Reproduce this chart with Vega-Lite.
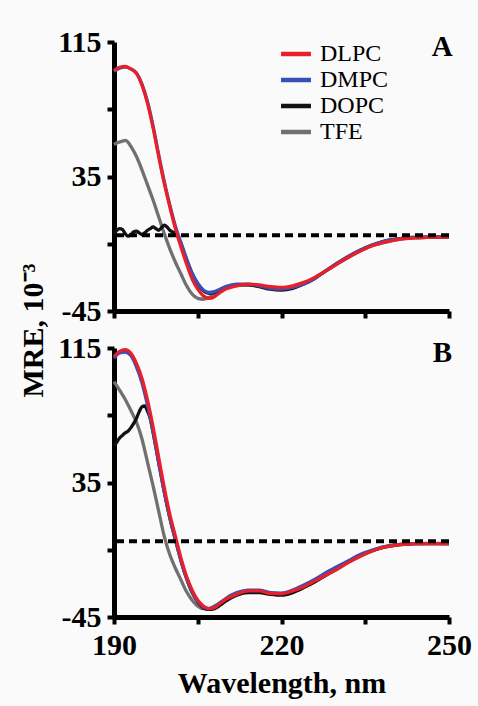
{
"$schema": "https://vega.github.io/schema/vega-lite/v6.json",
"background": "#fafafa",
"padding": {"left": 18, "top": 27, "right": 8, "bottom": 10},
"spacing": 37,
"bounds": "flush",
"config": {
  "view": {"stroke": null},
  "font": "Liberation Serif",
  "axis": {"domainColor": "#000", "domainWidth": 5, "tickColor": "#000", "tickWidth": 4, "tickSize": 7, "labelFont": "Liberation Serif", "labelFontWeight": "bold", "labelFontSize": 30, "labelColor": "#000", "titleFont": "Liberation Serif", "titleFontWeight": "bold", "titleFontSize": 30, "titleColor": "#000", "grid": false, "labelPadding": 6},
  "legend": {"orient": "none", "legendX": 168, "legendY": -2, "title": null, "symbolType": "M-1.3,0L1.3,0", "symbolSize": 529, "symbolStrokeWidth": 4.5, "labelFont": "Liberation Serif", "labelFontSize": 24, "labelFontWeight": "normal", "labelColor": "#000", "labelOffset": 10, "rowPadding": 0, "padding": 0}
},
"datasets": {"cd": [
{"p":"A","s":"TFE","w":190,"v":54},{"p":"A","s":"TFE","w":190.5,"v":55},{"p":"A","s":"TFE","w":191,"v":55.5},{"p":"A","s":"TFE","w":191.5,"v":56},{"p":"A","s":"TFE","w":192,"v":56.5},{"p":"A","s":"TFE","w":192.5,"v":55.5},{"p":"A","s":"TFE","w":193,"v":53},{"p":"A","s":"TFE","w":194,"v":47},{"p":"A","s":"TFE","w":195,"v":39},{"p":"A","s":"TFE","w":196,"v":30},{"p":"A","s":"TFE","w":197,"v":21},{"p":"A","s":"TFE","w":198,"v":11},{"p":"A","s":"TFE","w":199,"v":1},{"p":"A","s":"TFE","w":200,"v":-8},{"p":"A","s":"TFE","w":201,"v":-16},{"p":"A","s":"TFE","w":202,"v":-23},{"p":"A","s":"TFE","w":203,"v":-30},{"p":"A","s":"TFE","w":204,"v":-35},{"p":"A","s":"TFE","w":205,"v":-37.5},{"p":"A","s":"TFE","w":206,"v":-38},{"p":"A","s":"TFE","w":207,"v":-37},{"p":"A","s":"TFE","w":208,"v":-35},{"p":"A","s":"TFE","w":209,"v":-32.5},{"p":"A","s":"TFE","w":210,"v":-31},{"p":"A","s":"TFE","w":212,"v":-29.5},{"p":"A","s":"TFE","w":214,"v":-29.5},{"p":"A","s":"TFE","w":216,"v":-30},{"p":"A","s":"TFE","w":218,"v":-31},{"p":"A","s":"TFE","w":220,"v":-31.5},{"p":"A","s":"TFE","w":222,"v":-30.5},{"p":"A","s":"TFE","w":224,"v":-28.5},{"p":"A","s":"TFE","w":226,"v":-25},{"p":"A","s":"TFE","w":228,"v":-21},{"p":"A","s":"TFE","w":230,"v":-17},{"p":"A","s":"TFE","w":232,"v":-13},{"p":"A","s":"TFE","w":234,"v":-9.5},{"p":"A","s":"TFE","w":236,"v":-6.5},{"p":"A","s":"TFE","w":238,"v":-4.5},{"p":"A","s":"TFE","w":240,"v":-3},{"p":"A","s":"TFE","w":242,"v":-2},{"p":"A","s":"TFE","w":244,"v":-1.5},{"p":"A","s":"TFE","w":246,"v":-1.2},{"p":"A","s":"TFE","w":248,"v":-1},{"p":"A","s":"TFE","w":250,"v":-1},
{"p":"A","s":"DOPC","w":190,"v":1},{"p":"A","s":"DOPC","w":190.5,"v":3},{"p":"A","s":"DOPC","w":191,"v":4},{"p":"A","s":"DOPC","w":191.5,"v":3.5},{"p":"A","s":"DOPC","w":192,"v":1},{"p":"A","s":"DOPC","w":192.5,"v":-0.5},{"p":"A","s":"DOPC","w":193,"v":0.5},{"p":"A","s":"DOPC","w":193.5,"v":2},{"p":"A","s":"DOPC","w":194,"v":2.5},{"p":"A","s":"DOPC","w":194.5,"v":1.5},{"p":"A","s":"DOPC","w":195,"v":0.5},{"p":"A","s":"DOPC","w":195.5,"v":1.5},{"p":"A","s":"DOPC","w":196,"v":3},{"p":"A","s":"DOPC","w":196.5,"v":4},{"p":"A","s":"DOPC","w":197,"v":5},{"p":"A","s":"DOPC","w":197.5,"v":4},{"p":"A","s":"DOPC","w":198,"v":3},{"p":"A","s":"DOPC","w":198.5,"v":4.5},{"p":"A","s":"DOPC","w":199,"v":6},{"p":"A","s":"DOPC","w":199.5,"v":5},{"p":"A","s":"DOPC","w":200,"v":3},{"p":"A","s":"DOPC","w":200.5,"v":2},{"p":"A","s":"DOPC","w":201,"v":1.5},{"p":"A","s":"DOPC","w":202,"v":-5},{"p":"A","s":"DOPC","w":203,"v":-14.5},{"p":"A","s":"DOPC","w":204,"v":-23},{"p":"A","s":"DOPC","w":205,"v":-29},{"p":"A","s":"DOPC","w":206,"v":-33},{"p":"A","s":"DOPC","w":207,"v":-34.5},{"p":"A","s":"DOPC","w":208,"v":-34},{"p":"A","s":"DOPC","w":209,"v":-32.5},{"p":"A","s":"DOPC","w":210,"v":-31},{"p":"A","s":"DOPC","w":212,"v":-29.5},{"p":"A","s":"DOPC","w":214,"v":-29.5},{"p":"A","s":"DOPC","w":216,"v":-30.5},{"p":"A","s":"DOPC","w":218,"v":-32},{"p":"A","s":"DOPC","w":220,"v":-32.5},{"p":"A","s":"DOPC","w":222,"v":-31.5},{"p":"A","s":"DOPC","w":224,"v":-29},{"p":"A","s":"DOPC","w":226,"v":-25.5},{"p":"A","s":"DOPC","w":228,"v":-21},{"p":"A","s":"DOPC","w":230,"v":-16.5},{"p":"A","s":"DOPC","w":232,"v":-12.5},{"p":"A","s":"DOPC","w":234,"v":-9},{"p":"A","s":"DOPC","w":236,"v":-6},{"p":"A","s":"DOPC","w":238,"v":-3.8},{"p":"A","s":"DOPC","w":240,"v":-2.5},{"p":"A","s":"DOPC","w":242,"v":-1.6},{"p":"A","s":"DOPC","w":244,"v":-1.2},{"p":"A","s":"DOPC","w":246,"v":-1},{"p":"A","s":"DOPC","w":248,"v":-0.9},{"p":"A","s":"DOPC","w":250,"v":-0.8},
{"p":"A","s":"DMPC","w":190,"v":97.5},{"p":"A","s":"DMPC","w":191,"v":99.5},{"p":"A","s":"DMPC","w":192,"v":100},{"p":"A","s":"DMPC","w":193,"v":99},{"p":"A","s":"DMPC","w":194,"v":96.5},{"p":"A","s":"DMPC","w":195,"v":90},{"p":"A","s":"DMPC","w":196,"v":79.5},{"p":"A","s":"DMPC","w":197,"v":65},{"p":"A","s":"DMPC","w":198,"v":48},{"p":"A","s":"DMPC","w":199,"v":32},{"p":"A","s":"DMPC","w":200,"v":18},{"p":"A","s":"DMPC","w":201,"v":5.5},{"p":"A","s":"DMPC","w":202,"v":-4.5},{"p":"A","s":"DMPC","w":203,"v":-14},{"p":"A","s":"DMPC","w":204,"v":-22.5},{"p":"A","s":"DMPC","w":205,"v":-28.5},{"p":"A","s":"DMPC","w":206,"v":-32.5},{"p":"A","s":"DMPC","w":207,"v":-34},{"p":"A","s":"DMPC","w":208,"v":-33.5},{"p":"A","s":"DMPC","w":209,"v":-32},{"p":"A","s":"DMPC","w":210,"v":-30.5},{"p":"A","s":"DMPC","w":212,"v":-29},{"p":"A","s":"DMPC","w":214,"v":-29},{"p":"A","s":"DMPC","w":216,"v":-30},{"p":"A","s":"DMPC","w":218,"v":-31.5},{"p":"A","s":"DMPC","w":220,"v":-32},{"p":"A","s":"DMPC","w":222,"v":-31},{"p":"A","s":"DMPC","w":224,"v":-29},{"p":"A","s":"DMPC","w":226,"v":-25.5},{"p":"A","s":"DMPC","w":228,"v":-21},{"p":"A","s":"DMPC","w":230,"v":-16.5},{"p":"A","s":"DMPC","w":232,"v":-12.5},{"p":"A","s":"DMPC","w":234,"v":-9},{"p":"A","s":"DMPC","w":236,"v":-6},{"p":"A","s":"DMPC","w":238,"v":-3.8},{"p":"A","s":"DMPC","w":240,"v":-2.5},{"p":"A","s":"DMPC","w":242,"v":-1.6},{"p":"A","s":"DMPC","w":244,"v":-1.2},{"p":"A","s":"DMPC","w":246,"v":-1},{"p":"A","s":"DMPC","w":248,"v":-0.9},{"p":"A","s":"DMPC","w":250,"v":-0.8},
{"p":"A","s":"DLPC","w":190,"v":98},{"p":"A","s":"DLPC","w":191,"v":100},{"p":"A","s":"DLPC","w":192,"v":100.5},{"p":"A","s":"DLPC","w":193,"v":99},{"p":"A","s":"DLPC","w":194,"v":96.5},{"p":"A","s":"DLPC","w":195,"v":89.5},{"p":"A","s":"DLPC","w":196,"v":78.5},{"p":"A","s":"DLPC","w":197,"v":64},{"p":"A","s":"DLPC","w":198,"v":47},{"p":"A","s":"DLPC","w":199,"v":31},{"p":"A","s":"DLPC","w":200,"v":17},{"p":"A","s":"DLPC","w":201,"v":4},{"p":"A","s":"DLPC","w":202,"v":-7},{"p":"A","s":"DLPC","w":203,"v":-17},{"p":"A","s":"DLPC","w":204,"v":-26},{"p":"A","s":"DLPC","w":205,"v":-32},{"p":"A","s":"DLPC","w":206,"v":-36},{"p":"A","s":"DLPC","w":207,"v":-37.5},{"p":"A","s":"DLPC","w":208,"v":-36.5},{"p":"A","s":"DLPC","w":209,"v":-34},{"p":"A","s":"DLPC","w":210,"v":-32},{"p":"A","s":"DLPC","w":212,"v":-30},{"p":"A","s":"DLPC","w":214,"v":-29},{"p":"A","s":"DLPC","w":216,"v":-29.5},{"p":"A","s":"DLPC","w":218,"v":-30.5},{"p":"A","s":"DLPC","w":220,"v":-31},{"p":"A","s":"DLPC","w":222,"v":-30},{"p":"A","s":"DLPC","w":224,"v":-28},{"p":"A","s":"DLPC","w":226,"v":-25},{"p":"A","s":"DLPC","w":228,"v":-21},{"p":"A","s":"DLPC","w":230,"v":-17},{"p":"A","s":"DLPC","w":232,"v":-13},{"p":"A","s":"DLPC","w":234,"v":-9.5},{"p":"A","s":"DLPC","w":236,"v":-6.5},{"p":"A","s":"DLPC","w":238,"v":-4.5},{"p":"A","s":"DLPC","w":240,"v":-3},{"p":"A","s":"DLPC","w":242,"v":-2},{"p":"A","s":"DLPC","w":244,"v":-1.5},{"p":"A","s":"DLPC","w":246,"v":-1.2},{"p":"A","s":"DLPC","w":248,"v":-1},{"p":"A","s":"DLPC","w":250,"v":-1},
{"p":"B","s":"TFE","w":190,"v":95},{"p":"B","s":"TFE","w":191,"v":90},{"p":"B","s":"TFE","w":192,"v":84.5},{"p":"B","s":"TFE","w":193,"v":78},{"p":"B","s":"TFE","w":194,"v":71},{"p":"B","s":"TFE","w":195,"v":61},{"p":"B","s":"TFE","w":196,"v":47},{"p":"B","s":"TFE","w":197,"v":33},{"p":"B","s":"TFE","w":198,"v":18},{"p":"B","s":"TFE","w":199,"v":3},{"p":"B","s":"TFE","w":200,"v":-8},{"p":"B","s":"TFE","w":201,"v":-16},{"p":"B","s":"TFE","w":202,"v":-23},{"p":"B","s":"TFE","w":203,"v":-30},{"p":"B","s":"TFE","w":204,"v":-35},{"p":"B","s":"TFE","w":205,"v":-38.5},{"p":"B","s":"TFE","w":206,"v":-40},{"p":"B","s":"TFE","w":207,"v":-40},{"p":"B","s":"TFE","w":208,"v":-38.5},{"p":"B","s":"TFE","w":209,"v":-36.5},{"p":"B","s":"TFE","w":210,"v":-34.5},{"p":"B","s":"TFE","w":212,"v":-31.5},{"p":"B","s":"TFE","w":214,"v":-30},{"p":"B","s":"TFE","w":216,"v":-30},{"p":"B","s":"TFE","w":218,"v":-31},{"p":"B","s":"TFE","w":220,"v":-31.5},{"p":"B","s":"TFE","w":222,"v":-30},{"p":"B","s":"TFE","w":224,"v":-27},{"p":"B","s":"TFE","w":226,"v":-23.5},{"p":"B","s":"TFE","w":228,"v":-20},{"p":"B","s":"TFE","w":230,"v":-16.5},{"p":"B","s":"TFE","w":232,"v":-12.5},{"p":"B","s":"TFE","w":234,"v":-9},{"p":"B","s":"TFE","w":236,"v":-6},{"p":"B","s":"TFE","w":238,"v":-3.8},{"p":"B","s":"TFE","w":240,"v":-2.5},{"p":"B","s":"TFE","w":242,"v":-1.8},{"p":"B","s":"TFE","w":244,"v":-1.4},{"p":"B","s":"TFE","w":246,"v":-1.3},{"p":"B","s":"TFE","w":248,"v":-1.3},{"p":"B","s":"TFE","w":250,"v":-1.4},
{"p":"B","s":"DOPC","w":190,"v":57},{"p":"B","s":"DOPC","w":190.5,"v":59},{"p":"B","s":"DOPC","w":191,"v":61.5},{"p":"B","s":"DOPC","w":191.5,"v":63},{"p":"B","s":"DOPC","w":192,"v":64.5},{"p":"B","s":"DOPC","w":192.5,"v":65.5},{"p":"B","s":"DOPC","w":193,"v":67.5},{"p":"B","s":"DOPC","w":193.5,"v":70},{"p":"B","s":"DOPC","w":194,"v":73},{"p":"B","s":"DOPC","w":194.5,"v":77},{"p":"B","s":"DOPC","w":195,"v":80},{"p":"B","s":"DOPC","w":195.5,"v":80.5},{"p":"B","s":"DOPC","w":196,"v":77.5},{"p":"B","s":"DOPC","w":196.5,"v":73},{"p":"B","s":"DOPC","w":197,"v":65},{"p":"B","s":"DOPC","w":198,"v":47},{"p":"B","s":"DOPC","w":199,"v":29.5},{"p":"B","s":"DOPC","w":200,"v":14},{"p":"B","s":"DOPC","w":201,"v":1},{"p":"B","s":"DOPC","w":202,"v":-11.5},{"p":"B","s":"DOPC","w":203,"v":-22},{"p":"B","s":"DOPC","w":204,"v":-30.5},{"p":"B","s":"DOPC","w":205,"v":-36},{"p":"B","s":"DOPC","w":206,"v":-39.5},{"p":"B","s":"DOPC","w":207,"v":-40.5},{"p":"B","s":"DOPC","w":208,"v":-40},{"p":"B","s":"DOPC","w":209,"v":-38},{"p":"B","s":"DOPC","w":210,"v":-35.5},{"p":"B","s":"DOPC","w":212,"v":-32},{"p":"B","s":"DOPC","w":214,"v":-30.5},{"p":"B","s":"DOPC","w":216,"v":-30.5},{"p":"B","s":"DOPC","w":218,"v":-31.5},{"p":"B","s":"DOPC","w":220,"v":-32},{"p":"B","s":"DOPC","w":222,"v":-30.5},{"p":"B","s":"DOPC","w":224,"v":-27.5},{"p":"B","s":"DOPC","w":226,"v":-24},{"p":"B","s":"DOPC","w":228,"v":-20},{"p":"B","s":"DOPC","w":230,"v":-16},{"p":"B","s":"DOPC","w":232,"v":-12},{"p":"B","s":"DOPC","w":234,"v":-8.5},{"p":"B","s":"DOPC","w":236,"v":-5.8},{"p":"B","s":"DOPC","w":238,"v":-3.7},{"p":"B","s":"DOPC","w":240,"v":-2.4},{"p":"B","s":"DOPC","w":242,"v":-1.7},{"p":"B","s":"DOPC","w":244,"v":-1.4},{"p":"B","s":"DOPC","w":246,"v":-1.3},{"p":"B","s":"DOPC","w":248,"v":-1.3},{"p":"B","s":"DOPC","w":250,"v":-1.4},
{"p":"B","s":"DMPC","w":190,"v":109},{"p":"B","s":"DMPC","w":191,"v":112},{"p":"B","s":"DMPC","w":192,"v":112.5},{"p":"B","s":"DMPC","w":193,"v":110.5},{"p":"B","s":"DMPC","w":194,"v":104},{"p":"B","s":"DMPC","w":195,"v":94.5},{"p":"B","s":"DMPC","w":196,"v":81},{"p":"B","s":"DMPC","w":197,"v":65},{"p":"B","s":"DMPC","w":198,"v":47},{"p":"B","s":"DMPC","w":199,"v":29.5},{"p":"B","s":"DMPC","w":200,"v":14},{"p":"B","s":"DMPC","w":201,"v":1},{"p":"B","s":"DMPC","w":202,"v":-11.5},{"p":"B","s":"DMPC","w":203,"v":-22},{"p":"B","s":"DMPC","w":204,"v":-30},{"p":"B","s":"DMPC","w":205,"v":-35.5},{"p":"B","s":"DMPC","w":206,"v":-39},{"p":"B","s":"DMPC","w":207,"v":-40},{"p":"B","s":"DMPC","w":208,"v":-39},{"p":"B","s":"DMPC","w":209,"v":-36.5},{"p":"B","s":"DMPC","w":210,"v":-34},{"p":"B","s":"DMPC","w":212,"v":-30.5},{"p":"B","s":"DMPC","w":214,"v":-29},{"p":"B","s":"DMPC","w":216,"v":-29},{"p":"B","s":"DMPC","w":218,"v":-30.5},{"p":"B","s":"DMPC","w":220,"v":-30.8},{"p":"B","s":"DMPC","w":222,"v":-29},{"p":"B","s":"DMPC","w":224,"v":-26},{"p":"B","s":"DMPC","w":226,"v":-22.5},{"p":"B","s":"DMPC","w":228,"v":-18.5},{"p":"B","s":"DMPC","w":230,"v":-15},{"p":"B","s":"DMPC","w":232,"v":-11.5},{"p":"B","s":"DMPC","w":234,"v":-8},{"p":"B","s":"DMPC","w":236,"v":-5.5},{"p":"B","s":"DMPC","w":238,"v":-3.5},{"p":"B","s":"DMPC","w":240,"v":-2.3},{"p":"B","s":"DMPC","w":242,"v":-1.6},{"p":"B","s":"DMPC","w":244,"v":-1.3},{"p":"B","s":"DMPC","w":246,"v":-1.2},{"p":"B","s":"DMPC","w":248,"v":-1.2},{"p":"B","s":"DMPC","w":250,"v":-1.3},
{"p":"B","s":"DLPC","w":190,"v":110},{"p":"B","s":"DLPC","w":191,"v":113},{"p":"B","s":"DLPC","w":192,"v":114},{"p":"B","s":"DLPC","w":193,"v":112},{"p":"B","s":"DLPC","w":194,"v":106},{"p":"B","s":"DLPC","w":195,"v":97},{"p":"B","s":"DLPC","w":196,"v":84},{"p":"B","s":"DLPC","w":197,"v":68},{"p":"B","s":"DLPC","w":198,"v":50},{"p":"B","s":"DLPC","w":199,"v":32},{"p":"B","s":"DLPC","w":200,"v":16},{"p":"B","s":"DLPC","w":201,"v":3},{"p":"B","s":"DLPC","w":202,"v":-10},{"p":"B","s":"DLPC","w":203,"v":-21},{"p":"B","s":"DLPC","w":204,"v":-29},{"p":"B","s":"DLPC","w":205,"v":-35},{"p":"B","s":"DLPC","w":206,"v":-38.5},{"p":"B","s":"DLPC","w":207,"v":-40},{"p":"B","s":"DLPC","w":208,"v":-39.5},{"p":"B","s":"DLPC","w":209,"v":-37},{"p":"B","s":"DLPC","w":210,"v":-34.5},{"p":"B","s":"DLPC","w":212,"v":-31.5},{"p":"B","s":"DLPC","w":214,"v":-29.5},{"p":"B","s":"DLPC","w":216,"v":-29.5},{"p":"B","s":"DLPC","w":218,"v":-31},{"p":"B","s":"DLPC","w":220,"v":-31.2},{"p":"B","s":"DLPC","w":222,"v":-29.5},{"p":"B","s":"DLPC","w":224,"v":-27},{"p":"B","s":"DLPC","w":226,"v":-23.5},{"p":"B","s":"DLPC","w":228,"v":-20},{"p":"B","s":"DLPC","w":230,"v":-16.5},{"p":"B","s":"DLPC","w":232,"v":-12.5},{"p":"B","s":"DLPC","w":234,"v":-9},{"p":"B","s":"DLPC","w":236,"v":-6},{"p":"B","s":"DLPC","w":238,"v":-3.8},{"p":"B","s":"DLPC","w":240,"v":-2.5},{"p":"B","s":"DLPC","w":242,"v":-1.8},{"p":"B","s":"DLPC","w":244,"v":-1.4},{"p":"B","s":"DLPC","w":246,"v":-1.3},{"p":"B","s":"DLPC","w":248,"v":-1.3},{"p":"B","s":"DLPC","w":250,"v":-1.4}
]},
"vconcat": [
  {
    "width": 335, "height": 269,
    "layer": [
      {
        "data": {"name": "cd"},
        "transform": [{"filter": "datum.p == 'A'"}],
        "mark": {"type": "line", "interpolate": "monotone", "strokeWidth": 3.3},
        "encoding": {
          "x": {"field": "w", "type": "quantitative", "scale": {"domain": [190, 250], "nice": false, "zero": false},
                "axis": {"values": [190, 205, 220, 235, 250], "labels": false, "title": null}},
          "y": {"field": "v", "type": "quantitative", "scale": {"domain": [-45, 115], "nice": false, "zero": false},
                "axis": {"values": [-45, -5, 35, 75, 115], "labelExpr": "datum.value == -5 || datum.value == 75 ? '' : '' + datum.value", "title": "MRE, 10⁻³", "titleX": -72, "titleY": 288, "titleAngle": 270, "titleBaseline": "alphabetic", "titleAlign": "center"}},
          "color": {"field": "s", "type": "nominal", "scale": {"domain": ["DLPC", "DMPC", "DOPC", "TFE"], "range": ["#e8202a", "#3b4fb5", "#111111", "#707070"]}}
        }
      },
      {
        "data": {"values": [{"z": 0}]},
        "mark": {"type": "rule", "strokeDash": [8, 5], "strokeWidth": 4, "color": "#000"},
        "encoding": {"y": {"field": "z", "type": "quantitative"}}
      },
      {
        "data": {"values": [{"t": "A"}]},
        "mark": {"type": "text", "font": "Liberation Serif", "fontWeight": "bold", "fontSize": 29, "color": "#000", "align": "center", "baseline": "middle"},
        "encoding": {"x": {"datum": 248.8}, "y": {"datum": 112}, "text": {"field": "t"}}
      }
    ]
  },
  {
    "width": 335, "height": 269,
    "layer": [
      {
        "data": {"name": "cd"},
        "transform": [{"filter": "datum.p == 'B'"}],
        "mark": {"type": "line", "interpolate": "monotone", "strokeWidth": 3.3},
        "encoding": {
          "x": {"field": "w", "type": "quantitative", "scale": {"domain": [190, 250], "nice": false, "zero": false},
                "axis": {"values": [190, 205, 220, 235, 250], "labelExpr": "datum.value == 205 || datum.value == 235 ? '' : datum.label", "labelFlush": false, "labelOverlap": false, "title": "Wavelength, nm", "titlePadding": 8}},
          "y": {"field": "v", "type": "quantitative", "scale": {"domain": [-45, 115], "nice": false, "zero": false},
                "axis": {"values": [-45, -5, 35, 75, 115], "labelExpr": "datum.value == -5 || datum.value == 75 ? '' : '' + datum.value", "title": null}},
          "color": {"field": "s", "type": "nominal", "scale": {"domain": ["DLPC", "DMPC", "DOPC", "TFE"], "range": ["#e8202a", "#3b4fb5", "#111111", "#707070"]}}
        }
      },
      {
        "data": {"values": [{"z": 0}]},
        "mark": {"type": "rule", "strokeDash": [8, 5], "strokeWidth": 4, "color": "#000"},
        "encoding": {"y": {"field": "z", "type": "quantitative"}}
      },
      {
        "data": {"values": [{"t": "B"}]},
        "mark": {"type": "text", "font": "Liberation Serif", "fontWeight": "bold", "fontSize": 29, "color": "#000", "align": "center", "baseline": "middle"},
        "encoding": {"x": {"datum": 248.8}, "y": {"datum": 112}, "text": {"field": "t"}}
      }
    ]
  }
]
}
